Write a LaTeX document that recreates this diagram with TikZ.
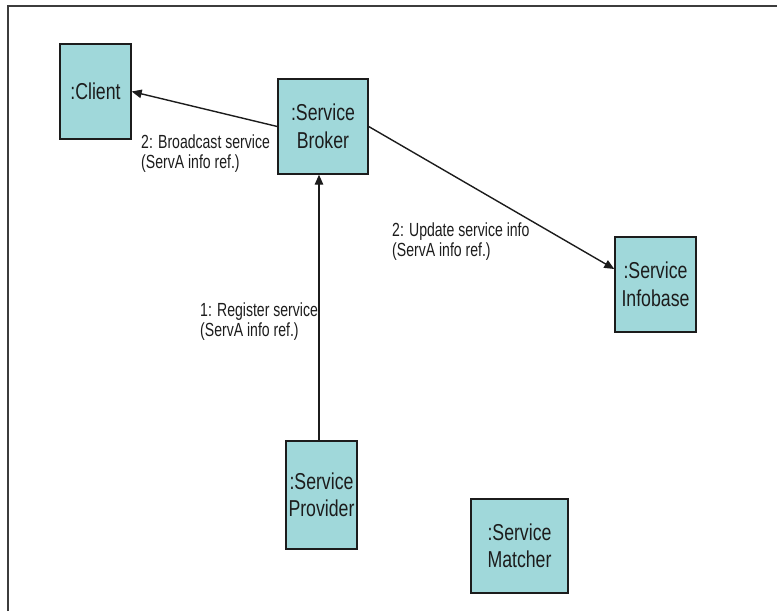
\documentclass[tikz,border=0pt]{standalone}
\usepackage{fontspec}
\usetikzlibrary{arrows.meta,calc}
\newfontfamily\boxfont[FakeStretch=0.77]{Liberation Sans}
\newfontfamily\labfont[FakeStretch=0.74]{Liberation Sans}
\definecolor{boxfill}{RGB}{160,216,218}
\definecolor{inkdark}{RGB}{28,28,28}
\definecolor{framegray}{RGB}{60,60,60}
\tikzset{
  objbox/.style={draw=inkdark, line width=1.4pt, fill=boxfill, inner sep=0pt,
    align=center, text=inkdark, font=\boxfont\fontsize{23}{27.5}\selectfont},
  msg/.style={draw=inkdark, line width=1.4pt, -{Triangle[length=10pt,width=8.5pt]}},
  msglabel/.style={anchor=base west, align=left, inner sep=0pt, text=inkdark,
    font=\labfont\fontsize{19}{19.5}\selectfont}
}
\begin{document}
\begin{tikzpicture}[x=1pt,y=-1pt]
  \useasboundingbox (0,0) rectangle (777,611);
  % outer frame (top and left edges)
  \draw[framegray, line width=2pt] (8,611) -- (8,6) -- (777,6);

  % objects
  \node[objbox, minimum width=71pt, minimum height=95pt]  (client)  at (95.5,91.5)  {:Client};
  \node[objbox, minimum width=90pt, minimum height=95pt]  (broker)  at (323,126.5)  {:Service\\Broker};
  \node[objbox, minimum width=81pt, minimum height=95pt]  (infobase) at (655.5,284.5) {:Service\\Infobase};
  \node[objbox, minimum width=71pt, minimum height=108pt] (provider) at (321.5,495) {:Service\\Provider};
  \node[objbox, minimum width=97pt, minimum height=94pt]  (matcher) at (519.5,546)  {:Service\\Matcher};

  % messages
  \draw[msg] (broker.west) -- (client.east);
  \draw[msg] (broker.east) -- ([yshift=15.5pt]infobase.west);
  \draw[msg] ([xshift=-2.5pt]provider.north) -- ([xshift=-2.5pt]provider.north |- broker.south);

  % message labels (anchored on the baseline of their last line)
  \node[msglabel] (lblcast) at (141,168) {2: Broadcast service\\(ServA info ref.)};
  \node[msglabel] (lblupd)  at (392,256) {2: Update service info\\(ServA info ref.)};
  \node[msglabel] (lblreg)  at (200,336) {1: Register service\\(ServA info ref.)};
\end{tikzpicture}
\end{document}
